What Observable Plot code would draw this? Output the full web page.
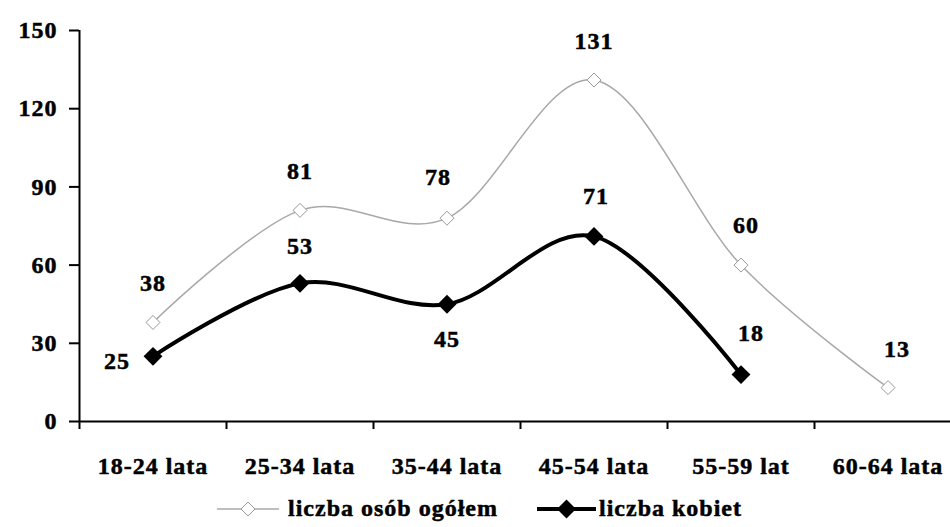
<!DOCTYPE html>
<html><head><meta charset="utf-8">
<script src="https://cdn.jsdelivr.net/npm/d3@7"></script>
<script src="https://cdn.jsdelivr.net/npm/@observablehq/plot@0.6"></script>
<style>
body{margin:0;background:#fff;font-family:"Liberation Serif",serif;}
#chart text{letter-spacing:1px;stroke:#000;stroke-width:0.5px;}
#legend{display:flex;align-items:center;height:37px;padding-left:217px;font-weight:bold;font-size:24px;letter-spacing:1px;color:#000;-webkit-text-stroke:0.5px #000;}
#legend .item{display:flex;align-items:center;}
#legend svg{display:block;}
</style></head><body>
<div id="chart"></div>
<div id="legend"></div>
<script>
const categories = ["18-24 lata","25-34 lata","35-44 lata","45-54 lata","55-59 lat","60-64 lata"];
const totalValues = [38,81,78,131,60,13];
const womenValues = [25,53,45,71,18];
const yTicks = [0,30,60,90,120,150];
const seriesNames = ["liczba osób ogółem","liczba kobiet"];

const greyColor = "#a8a8a8";
const total = totalValues.map((v,i)=>({i, pos:i+0.5, value:v}));
const women = womenValues.map((v,i)=>({i, pos:i+0.5, value:v}));

function labels(data, idx, dx, dy){
  return Plot.text(data.filter(d=>idx.includes(d.i)), {
    x:"pos", y:"value", text:d=>String(d.value), dx, dy,
    fontSize:24, fontWeight:"bold", fill:"#000"
  });
}

const plot = Plot.plot({
  width:950, height:490, marginLeft:79, marginRight:0, marginTop:30, marginBottom:69,
  style:{fontFamily:"Liberation Serif", fontSize:"24px", fontWeight:"bold", background:"#fff", color:"#000"},
  x:{type:"linear", domain:[0,categories.length], range:[79,961]},
  y:{domain:[0,150], range:[421,30]},
  marks:[
    Plot.axisY({ticks:yTicks, tickSize:10, tickPadding:12, tickFormat:d=>String(d), label:null, fontSize:24, fontWeight:"bold", strokeWidth:2}),
    Plot.axisX({ticks:d3.range(categories.length+1), tickSize:8, tickFormat:()=>"", label:null, strokeWidth:2}),
    Plot.axisX({ticks:categories.map((c,i)=>i+0.5), tickSize:0, tickPadding:35, tickFormat:d=>categories[Math.floor(d)], label:null, fontSize:24, fontWeight:"bold"}),
    Plot.ruleX([0], {strokeWidth:2}),
    Plot.ruleY([0], {strokeWidth:2}),
    Plot.line(total, {x:"pos", y:"value", curve:"cardinal", stroke:greyColor, strokeWidth:1.5}),
    Plot.dot(total, {x:"pos", y:"value", symbol:"diamond2", r:6.3, fill:"#fff", stroke:"#999", strokeWidth:1}),
    Plot.line(women, {x:"pos", y:"value", curve:"cardinal", stroke:"#000", strokeWidth:4}),
    Plot.dot(women, {x:"pos", y:"value", symbol:"diamond2", r:8.5, fill:"#000", stroke:"none"}),
    labels(total, [0,1,3], 0, -39),
    labels(total, [2], -9, -41),
    labels(total, [4], 5, -40),
    labels(total, [5], 9, -38),
    labels(women, [1], 0, -37),
    labels(women, [3], 2, -40),
    labels(women, [4], 10, -41),
    labels(women, [0], -36, 5),
    labels(women, [2], 0, 35)
  ]
});
document.getElementById("chart").appendChild(plot);

const legend = document.getElementById("legend");
legend.innerHTML = `
<div class="item"><svg width="62" height="20"><line x1="0" y1="10" x2="62" y2="10" stroke="${greyColor}" stroke-width="1.5"/><path d="M31,3L38,10L31,17L24,10Z" fill="#fff" stroke="#999" stroke-width="1"/></svg><span style="margin-left:9px">${seriesNames[0]}</span></div>
<div class="item" style="margin-left:39px"><svg width="59" height="22"><line x1="0" y1="11" x2="59" y2="11" stroke="#000" stroke-width="4"/><path d="M29.5,1.5L39,11L29.5,20.5L20,11Z" fill="#000"/></svg><span style="margin-left:3px">${seriesNames[1]}</span></div>`;
</script>
</body></html>
